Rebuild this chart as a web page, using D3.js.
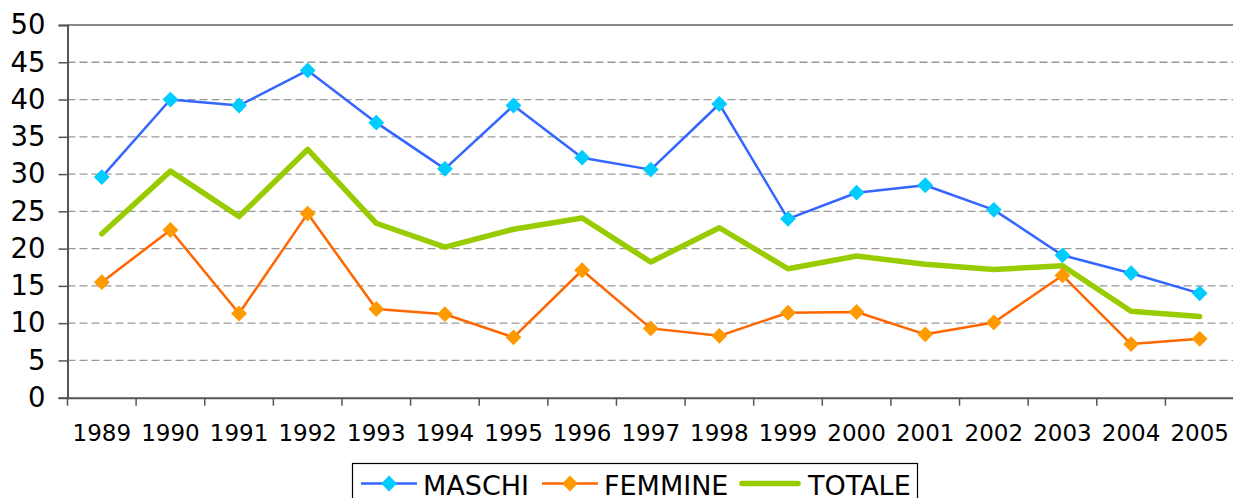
<!DOCTYPE html>
<html>
<head>
<meta charset="utf-8">
<script src="https://cdn.jsdelivr.net/npm/d3@7"></script>
<style>
  body { margin: 0; background: #fff; }
  svg { display: block; font-family: "DejaVu Sans", Verdana, sans-serif; }
</style>
</head>
<body>
<script>
const years = ["1989", "1990", "1991", "1992", "1993", "1994", "1995", "1996", "1997",
  "1998", "1999", "2000", "2001", "2002", "2003", "2004", "2005"];
const maschi = [29.6, 40.0, 39.2, 43.9, 36.9, 30.7, 39.2, 32.2, 30.6, 39.4, 24.0, 27.5, 28.5, 25.2, 19.1, 16.7, 14.0];
const femmine = [15.5, 22.5, 11.3, 24.7, 11.9, 11.2, 8.1, 17.1, 9.3, 8.3, 11.4, 11.5, 8.5, 10.1, 16.4, 7.2, 7.9];
const totale = [22.0, 30.4, 24.3, 33.3, 23.4, 20.2, 22.6, 24.1, 18.2, 22.8, 17.3, 19.0, 17.9, 17.2, 17.7, 11.6, 10.9];
const yTicks = [0, 5, 10, 15, 20, 25, 30, 35, 40, 45, 50];

const w = 1233;
const h = 498;
const plotLeft = 67.5, plotRight = 1234, plotTop = 25, plotBottom = 397.7;

const svg = d3.select("body").append("svg").attr("width", w).attr("height", h);

const xScale = d3.scaleBand().domain(years).range([plotLeft, plotRight]);
const yScale = d3.scaleLinear().domain([0, 50]).range([plotBottom, plotTop]);

// gridlines
svg.append("g")
  .selectAll("line")
  .data(yTicks.filter((d) => d > 0 && d < 50))
  .enter()
  .append("line")
  .attr("x1", plotLeft)
  .attr("x2", plotRight)
  .attr("y1", (d) => yScale(d))
  .attr("y2", (d) => yScale(d))
  .attr("stroke", "#999")
  .attr("stroke-width", 1.3)
  .attr("stroke-dasharray", "8,4");

// top border
svg.append("line")
  .attr("x1", plotLeft).attr("x2", plotRight)
  .attr("y1", yScale(50)).attr("y2", yScale(50))
  .attr("stroke", "#888").attr("stroke-width", 2);

// y axis
const yAxis = d3.axisLeft(yScale).tickValues(yTicks).tickSize(9).tickPadding(13);
const yg = svg.append("g").attr("transform", `translate(${plotLeft},0)`).call(yAxis);
yg.select(".domain").attr("stroke", "#555").attr("stroke-width", 2);
yg.selectAll(".tick line").attr("stroke", "#555").attr("stroke-width", 1.5);
yg.selectAll("text").attr("font-size", 27.5).attr("fill", "#000").attr("font-family", "DejaVu Sans");

// x axis
const xAxis = d3.axisBottom(xScale).tickSize(0).tickPadding(27);
const xg = svg.append("g").attr("transform", `translate(0,${plotBottom})`).call(xAxis);
xg.select(".domain").attr("stroke", "#555").attr("stroke-width", 2);
xg.selectAll("text").attr("font-size", 23).attr("fill", "#000").attr("font-family", "DejaVu Sans");
// tick marks between categories
xg.selectAll(".sep")
  .data(years)
  .enter()
  .append("line")
  .attr("x1", (d) => xScale(d))
  .attr("x2", (d) => xScale(d))
  .attr("y1", 0)
  .attr("y2", 8)
  .attr("stroke", "#555")
  .attr("stroke-width", 1.5);

const cx = (i) => xScale(years[i]) + xScale.bandwidth() / 2;
const line = d3.line().x((d, i) => cx(i)).y((d) => yScale(d));
const diamond = d3.symbol().type(d3.symbolSquare).size(125);

const series = [
  { name: "MASCHI", values: maschi, stroke: "#3366ff", width: 2.5, marker: "#00ccff" },
  { name: "FEMMINE", values: femmine, stroke: "#ff6600", width: 2.5, marker: "#ff9900" },
  { name: "TOTALE", values: totale, stroke: "#99cc00", width: 5.5, marker: null }
];

series.slice().reverse().forEach((s) => {
  svg.append("path")
    .datum(s.values)
    .attr("fill", "none")
    .attr("stroke", s.stroke)
    .attr("stroke-width", s.width)
    .attr("stroke-linejoin", "round")
    .attr("stroke-linecap", "round")
    .attr("d", line);
});
series.forEach((s) => {
  if (!s.marker) return;
  svg.append("g")
    .selectAll("path")
    .data(s.values)
    .enter()
    .append("path")
    .attr("d", diamond)
    .attr("fill", s.marker)
    .attr("transform", (d, i) => `translate(${cx(i)},${yScale(d)}) rotate(45)`);
});

// legend
const legend = svg.append("g");
legend.append("rect")
  .attr("x", 352.5).attr("y", 463.5)
  .attr("width", 565).attr("height", 60)
  .attr("fill", "#fff").attr("stroke", "#000").attr("stroke-width", 1.2);
const legendX = [361, 542, 742];
series.forEach((s, i) => {
  const g = legend.append("g").attr("transform", `translate(${legendX[i]},483.5)`);
  g.append("line")
    .attr("x1", 0).attr("x2", 56)
    .attr("stroke", s.stroke)
    .attr("stroke-width", s.width)
    .attr("stroke-linecap", s.marker ? "butt" : "round");
  if (s.marker) {
    g.append("path").attr("d", diamond).attr("fill", s.marker)
      .attr("transform", "translate(28,0) rotate(45)");
  }
  g.append("text")
    .attr("x", s.marker ? 62 : 66)
    .attr("y", 11)
    .attr("font-size", 27)
    .attr("fill", "#000")
    .text(s.name);
});
</script>
</body>
</html>
